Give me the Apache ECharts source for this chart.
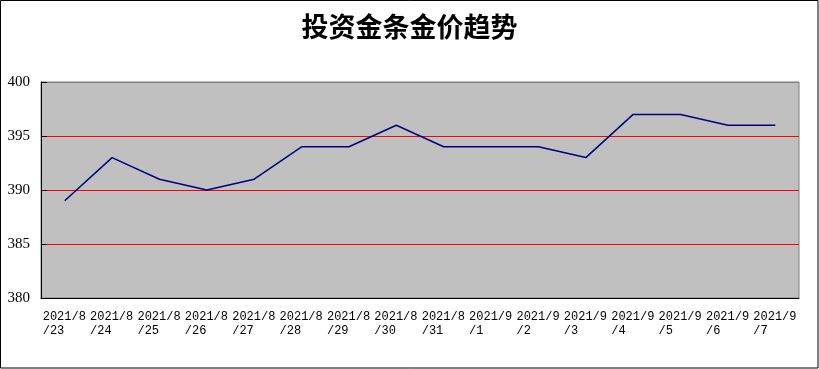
<!DOCTYPE html>
<html>
<head>
<meta charset="utf-8">
<script src="https://cdn.jsdelivr.net/npm/echarts@6/dist/echarts.min.js"></script>
<style>
html,body{margin:0;padding:0;background:#fff;}
#c{width:819px;height:369px;}
</style>
</head>
<body>
<div id="c"></div>
<script>
const titleText = '投资金条金价趋势';
const categories = ['2021/8/23','2021/8/24','2021/8/25','2021/8/26','2021/8/27','2021/8/28','2021/8/29','2021/8/30','2021/8/31','2021/9/1','2021/9/2','2021/9/3','2021/9/4','2021/9/5','2021/9/6','2021/9/7'];
const prices = [389, 393, 391, 390, 391, 394, 394, 396, 394, 394, 394, 393, 397, 397, 396, 396];
const yMin = 380, yMax = 400, yStep = 5;

const chart = echarts.init(document.getElementById('c'), null, {renderer: 'canvas'});
chart.setOption({
  backgroundColor: '#fff',
  animation: false,
  title: {
    text: titleText, left: 'center', top: 8,
    textStyle: {fontFamily: 'Noto Sans CJK SC', fontWeight: 'bold', fontSize: 27, color: '#000'}
  },
  graphic: [{
    type: 'rect', shape: {x: 0.5, y: 0.5, width: 817.5, height: 367.5},
    style: {fill: 'none', stroke: '#000', lineWidth: 1}, silent: true, z: 100
  }],
  grid: {
    left: 41, right: 20, top: 82, bottom: 71, show: true,
    backgroundColor: '#C0C0C0', borderColor: '#808080', borderWidth: 1
  },
  xAxis: {
    type: 'category', data: categories, boundaryGap: true,
    axisLine: {lineStyle: {color: '#000', width: 1}},
    axisTick: {inside: true, length: 6, lineStyle: {color: '#000'}},
    axisLabel: {
      interval: 0, margin: 12, color: '#000',
      formatter: function (v) {
        const i = v.lastIndexOf('/');
        return '{a|' + v.slice(0, i) + '}\n{a|' + v.slice(i) + '}';
      },
      rich: {a: {width: 44, align: 'left', fontFamily: 'Liberation Mono', fontSize: 12, lineHeight: 14, color: '#000'}}
    }
  },
  yAxis: {
    type: 'value', min: yMin, max: yMax, interval: yStep,
    axisLine: {show: true, lineStyle: {color: '#000', width: 1}},
    axisTick: {show: true, inside: true, length: 6, lineStyle: {color: '#000'}},
    splitLine: {show: true, lineStyle: {color: ['#000000', '#FF0000', '#FF0000', '#FF0000', '#808080'], width: 1}},
    axisLabel: {margin: 11, color: '#000', fontFamily: 'Liberation Serif', fontSize: 15}
  },
  series: [{
    type: 'line', data: prices, symbol: 'none',
    lineStyle: {color: '#000080', width: 1.5}
  }]
});
</script>
</body>
</html>
